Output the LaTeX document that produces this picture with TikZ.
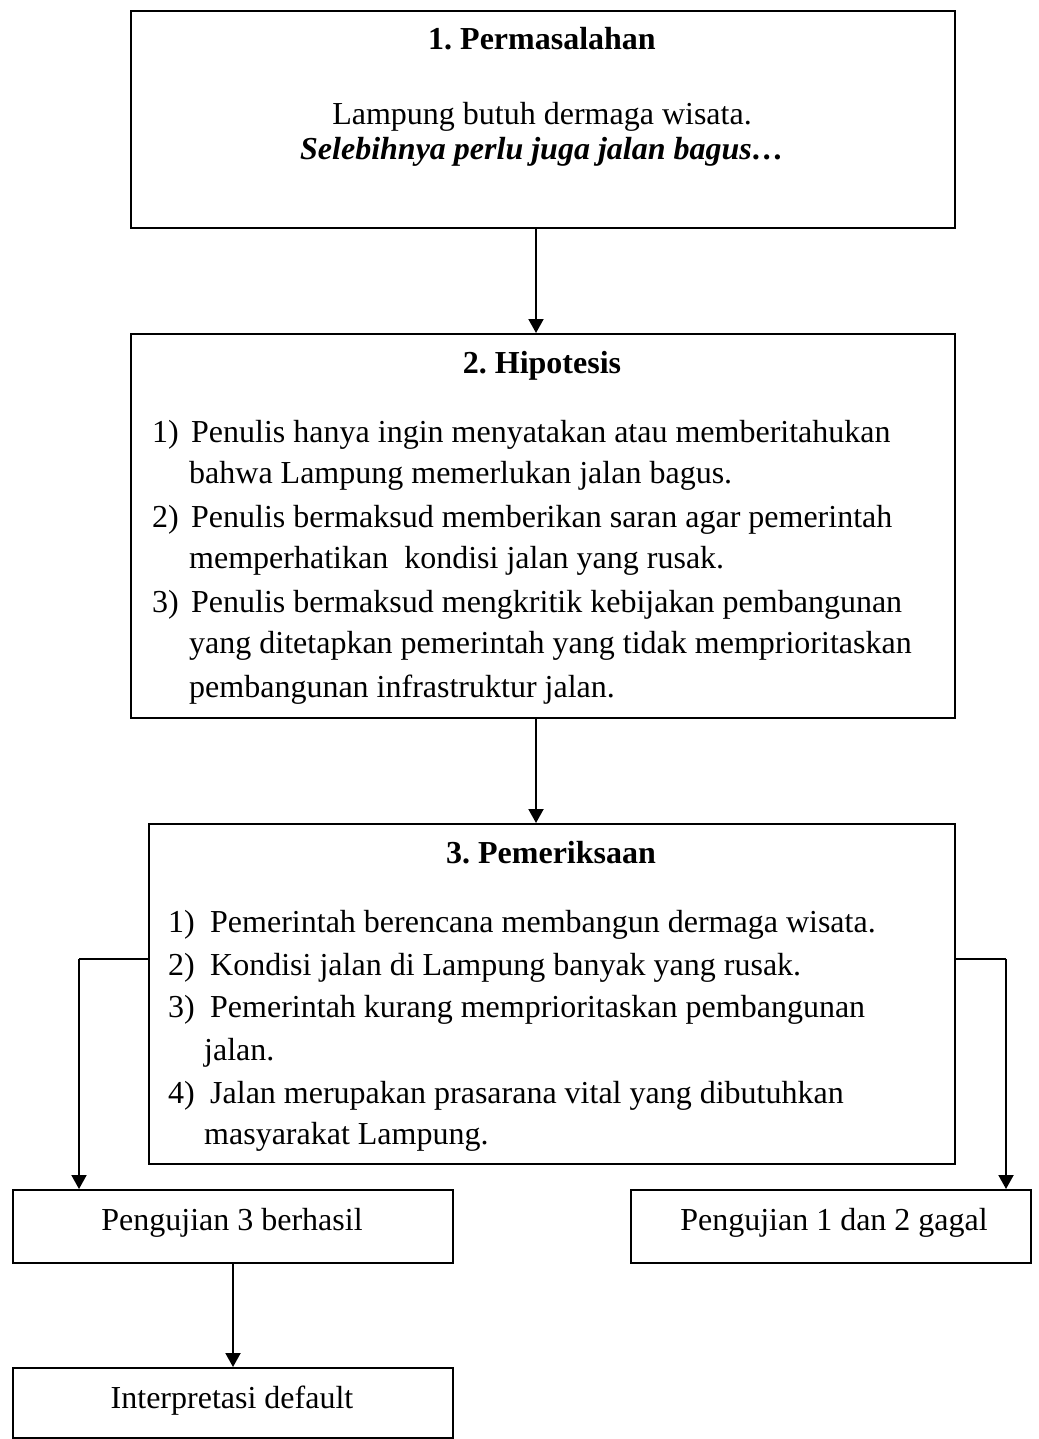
\documentclass[tikz,border=0pt]{standalone}
\usepackage{fontspec}
\setmainfont{Liberation Serif}
\usetikzlibrary{arrows.meta}
\frenchspacing
\tikzset{
  box/.style={draw=black, line width=2pt, rectangle, inner sep=0pt, anchor=north west},
  txt/.style={anchor=base west, inner sep=0pt},
  ctxt/.style={anchor=base, inner sep=0pt},
  arr/.style={line width=2pt, -{Triangle[length=14pt,width=15pt]}},
}
\begin{document}
\begin{tikzpicture}[x=1pt,y=-1pt,font=\fontsize{32}{42}\selectfont]
\useasboundingbox (0,0) rectangle (1038,1439);

% boxes
\node[box, minimum width=824pt, minimum height=217pt] (b1) at (130,10) {};
\node[box, minimum width=824pt, minimum height=384pt] (b2) at (130,333) {};
\node[box, minimum width=806pt, minimum height=340pt] (b3) at (148,823) {};
\node[box, minimum width=440pt, minimum height=73pt] (sl) at (12,1189) {};
\node[box, minimum width=400pt, minimum height=73pt] (sr) at (630,1189) {};
\node[box, minimum width=440pt, minimum height=70pt] (ib) at (12,1367) {};

% box 1 text
\node[ctxt] (t1) at (542,50) {\textbf{1. Permasalahan}};
\node[ctxt] (t1a) at (542,125) {Lampung butuh dermaga wisata.};
\node[ctxt] (t1b) at (542,160) {\textbf{\textit{Selebihnya perlu juga jalan bagus…}}};

% box 2 text
\node[ctxt] (t2) at (542,373) {\textbf{2. Hipotesis}};
\node[txt] (h1n) at (152,442) {1)};
\node[txt] (h1a) at (191,442) {Penulis hanya ingin menyatakan atau memberitahukan};
\node[txt] (h1b) at (189,483) {bahwa Lampung memerlukan jalan bagus.};
\node[txt] (h2n) at (152,527) {2)};
\node[txt] (h2a) at (191,527) {Penulis bermaksud memberikan saran agar pemerintah};
\node[txt] (h2b) at (189,568) {memperhatikan\ \ kondisi jalan yang rusak.};
\node[txt] (h3n) at (152,612) {3)};
\node[txt] (h3a) at (191,612) {Penulis bermaksud mengkritik kebijakan pembangunan};
\node[txt] (h3b) at (189,653) {yang ditetapkan pemerintah yang tidak memprioritaskan};
\node[txt] (h3c) at (189,697) {pembangunan infrastruktur jalan.};

% box 3 text
\node[ctxt] (t3) at (551,863) {\textbf{3. Pemeriksaan}};
\node[txt] (p1n) at (168,932) {1)};
\node[txt] (p1a) at (210,932) {Pemerintah berencana membangun dermaga wisata.};
\node[txt] (p2n) at (168,975) {2)};
\node[txt] (p2a) at (210,975) {Kondisi jalan di Lampung banyak yang rusak.};
\node[txt] (p3n) at (168,1017) {3)};
\node[txt] (p3a) at (210,1017) {Pemerintah kurang memprioritaskan pembangunan};
\node[txt] (p3b) at (204,1060) {jalan.};
\node[txt] (p4n) at (168,1103) {4)};
\node[txt] (p4a) at (210,1103) {Jalan merupakan prasarana vital yang dibutuhkan};
\node[txt] (p4b) at (204,1144) {masyarakat Lampung.};

% lower boxes text
\node[ctxt] (ts) at (232,1230) {Pengujian 3 berhasil};
\node[ctxt] (tg) at (834,1230) {Pengujian 1 dan 2 gagal};
\node[ctxt] (ti) at (232,1408) {Interpretasi default};

% connectors
\coordinate (c12) at (536,0);
\draw[arr] (b1.south -| c12) -- (b2.north -| c12);
\draw[arr] (b2.south -| c12) -- (b3.north -| c12);
\coordinate (lj) at (79,959);
\coordinate (rj) at (1006,959);
\draw[line width=2pt] (b3.west |- lj) -- (lj);
\draw[arr] (lj) -- (lj |- sl.north);
\draw[line width=2pt] (b3.east |- rj) -- (rj);
\draw[arr] (rj) -- (rj |- sr.north);
\draw[arr] (sl.south) -- (ib.north);
\end{tikzpicture}
\end{document}
